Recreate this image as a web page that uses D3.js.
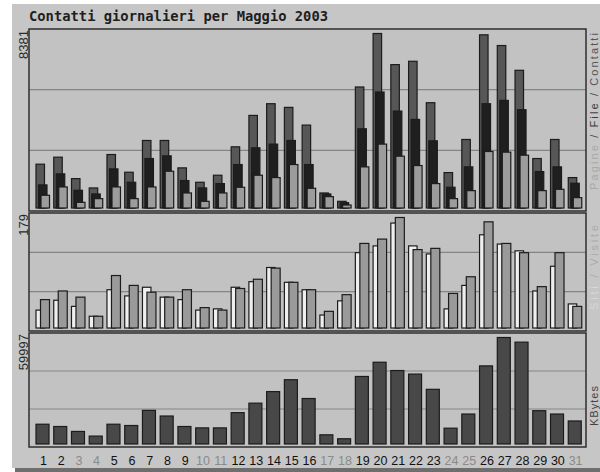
<!DOCTYPE html>
<html>
<head>
<meta charset="utf-8">
<script src="https://cdn.jsdelivr.net/npm/d3@7"></script>
<style>
  body { margin: 0; background: #fff; }
  text { font-family: "Liberation Sans", Arial, sans-serif; }
</style>
</head>
<body>
<svg id="chart" width="600" height="472"></svg>
<script>
// giorni del mese e weekend (etichette in grigio)
const days = [1,2,3,4,5,6,7,8,9,10,11,12,13,14,15,16,17,18,19,20,21,22,23,24,25,26,27,28,29,30,31];
const weekends = [3,4,10,11,17,18,24,25,31];

// pannello alto: Contatti / File / Pagine
const hits  = [2105,2441,1412,963,2569,1718,3243,3243,1927,1236,1574,2938,4447,5009,4832,3982,722,321,5812,8381,6887,7047,5057,1701,3291,8318,7803,6614,2376,3291,1461];
const files = [1108,1638,852,674,1878,1236,2376,2505,1317,963,1172,2087,2890,3068,3243,2087,674,257,3805,5571,4656,4254,3227,996,1975,5009,5169,4720,1750,1975,1188];
const pages = [612,1011,273,450,1011,450,1011,1766,722,321,722,996,1574,1461,2087,947,546,144,1975,3068,2489,2039,1172,450,834,2714,2682,2537,834,899,498];

// pannello centrale: Siti / Visite
const visitors = [29,45,35,19,62,52,66,50,46,29,31,66,75,98,74,62,21,44,122,133,170,133,120,31,69,151,136,125,60,100,39];
const visits   = [46,60,50,19,85,69,58,50,62,33,29,64,79,97,74,62,27,54,137,144,179,127,129,56,83,172,137,122,67,122,35];

// pannello basso: KBytes
const kbytes = [11142,9860,7075,4457,11142,10417,18941,15765,9860,9080,9080,17659,23007,29525,36210,25626,5181,2953,38048,46071,41391,39385,30807,8913,16880,44010,59997,57379,18774,16880,12980];

const svg = d3.select("#chart");

// sfondo del riquadro con ombra
svg.append("rect").attr("x", 15).attr("y", 467).attr("width", 585).attr("height", 5).attr("fill", "#6e6e6e");
svg.append("rect").attr("x", 12).attr("y", 4).attr("width", 588).attr("height", 464).attr("fill", "#c6c6c6");

svg.append("text")
    .attr("x", 29).attr("y", 21)
    .style("font-family", "'DejaVu Sans Mono', monospace")
    .style("font-weight", "bold")
    .style("font-size", "13.8px")
    .attr("fill", "#1e1e1e")
    .text("Contatti giornalieri per Maggio 2003");

const left = 29, right = 586;
const x = d3.scaleBand().domain(days).range([34, 584]);

const panels = [
    {top: 29,  bottom: 211, max: d3.max(hits),   label: [["Pagine ", "#a8a8a8"], ["/ File / ", "#3a3a3a"], ["Contatti", "#555"]], len: 157},
    {top: 213, bottom: 331, max: d3.max(visits), label: [["Siti ", "#d8d8d8"], ["/ Visite", "#ababab"]], len: 85},
    {top: 333, bottom: 447, max: d3.max(kbytes), label: [["KBytes", "#444"]], len: 40}
];

panels.forEach(p => {
    p.y = d3.scaleLinear().domain([0, p.max]).range([p.bottom - 3, p.top + 4.5]);
    const g = svg.append("g");
    g.append("rect")
        .attr("x", left).attr("y", p.top)
        .attr("width", right - left).attr("height", p.bottom - p.top)
        .attr("fill", "#c2c2c2");
    // griglia a terzi
    [1, 2].forEach(k => {
        const gy = p.top + (p.bottom - p.top) * k / 3;
        g.append("line")
            .attr("x1", left).attr("x2", right)
            .attr("y1", gy).attr("y2", gy)
            .attr("stroke", "#858585").attr("stroke-width", 1.2);
    });
    // valore massimo a sinistra
    svg.append("text")
        .attr("transform", `translate(28,${p.top + 1}) rotate(-90)`)
        .attr("text-anchor", "end")
        .style("font-size", "13px")
        .attr("fill", "#2a2a2a")
        .text(p.max);
    // legenda a destra
    const t = svg.append("text")
        .attr("transform", `translate(598,${p.bottom - 21}) rotate(-90)`)
        .attr("textLength", p.len)
        .attr("lengthAdjust", "spacing")
        .style("font-size", "11px");
    p.label.forEach(([s, c]) => t.append("tspan").attr("fill", c).text(s));
});

function bars(data, panel, dx, w, fill) {
    svg.append("g").selectAll("rect")
        .data(data)
        .join("rect")
        .attr("x", (d, i) => x(days[i]) + 2 + dx)
        .attr("y", d => panel.y(d))
        .attr("width", w)
        .attr("height", d => panel.y(0) - panel.y(d))
        .attr("fill", fill)
        .attr("stroke", "#1c1c1c")
        .attr("stroke-width", 1.2);
}

bars(hits,  panels[0], 0,   8.5, "#575757");
bars(files, panels[0], 2.5, 8.5, "#1f1f1f");
bars(pages, panels[0], 5,   8.5, "#9c9c9c");

bars(visitors, panels[1], 0,   8.5, "#efefef");
bars(visits,   panels[1], 4.5, 9,   "#9a9a9a");

bars(kbytes, panels[2], 0, 13, "#484848");

// cornici dei pannelli
panels.forEach(p => {
    svg.append("rect")
        .attr("x", left).attr("y", p.top)
        .attr("width", right - left).attr("height", p.bottom - p.top)
        .attr("fill", "none")
        .attr("stroke", "#2e2e2e").attr("stroke-width", 1.5);
});

// etichette dei giorni
svg.append("g").selectAll("text")
    .data(days)
    .join("text")
    .attr("x", d => x(d) + x.bandwidth() / 2 + 0.5)
    .attr("y", 465)
    .attr("text-anchor", "middle")
    .style("font-size", "12.5px")
    .attr("fill", d => weekends.includes(d) ? "#8a8a8a" : "#111")
    .text(d => d);
</script>
</body>
</html>
